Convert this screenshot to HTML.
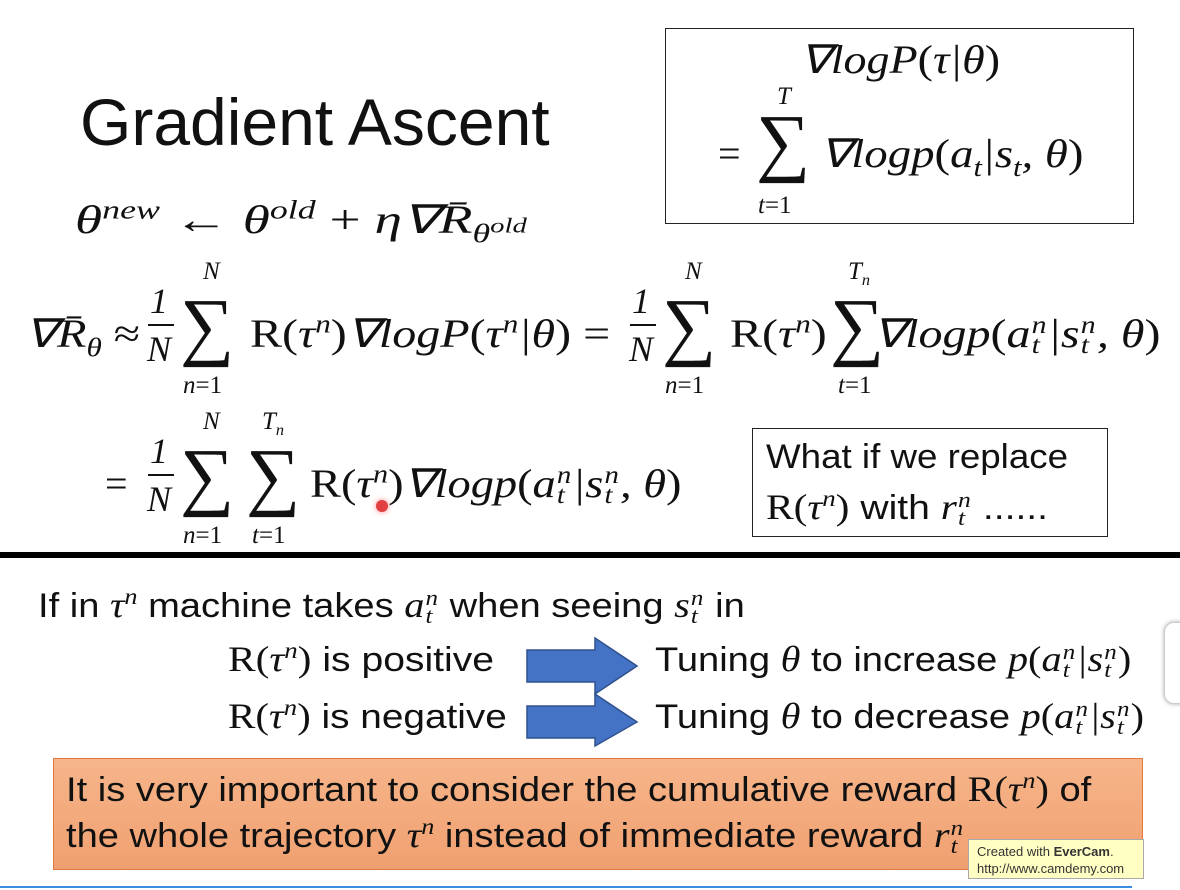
<!DOCTYPE html>
<html><head><meta charset="utf-8"><style>
body{margin:0;width:1180px;height:890px;background:#fff;position:relative;overflow:hidden;font-family:"Liberation Sans",sans-serif;color:#111}
.a{position:absolute;white-space:nowrap;transform-origin:0 50%}
.m{font-family:"Liberation Serif",serif;font-style:italic;font-size:40px}
.r{font-family:"Liberation Serif",serif;font-style:normal}
.s{font-family:"Liberation Serif",serif;font-size:76px;line-height:72px}
.l{font-family:"Liberation Serif",serif;font-style:italic;font-size:25px}
sup,sub{font-size:0.65em;line-height:0}
.ss{display:inline-flex;flex-direction:column;font-size:0.62em;line-height:0.8em;vertical-align:0.55em;margin:0 1px}
.ss b{font-weight:normal}
.f{font-family:"Liberation Serif",serif;font-style:italic;font-size:36px;text-align:center;width:28px}
.fl{position:absolute;height:2px;background:#111}
.t{font-size:34px}
.mi{font-family:"Liberation Serif",serif;font-style:italic;font-size:36px}
</style></head><body>
<div class="a" style="left:80px;top:84px;font-size:66px">Gradient Ascent</div>

<div class="a" style="left:665px;top:28px;width:467px;height:194px;border:1.5px solid #222"></div>
<div class="a m" style="left:800px;top:36px;transform:scaleX(1.15)">∇logP<span class="r">(</span>τ|θ<span class="r">)</span></div>
<div class="a l" style="left:777px;top:83px">T</div>
<div class="a r" style="left:718px;top:130px;font-size:40px">=</div>
<div class="a s" style="left:756px;top:106px">∑</div>
<div class="a l" style="left:758px;top:192px"><i>t</i><span class="r">=1</span></div>
<div class="a m" style="left:820px;top:130px;transform:scaleX(1.17)">∇logp<span class="r">(</span>a<sub>t</sub>|s<sub>t</sub>, θ<span class="r">)</span></div>

<div class="a m" style="left:75px;top:196px;transform:scaleX(1.38)">θ<sup>new</sup> <span class="r">←</span> θ<sup>old</sup> <span class="r">+</span> η∇R̄<sub>θ<sup style="font-size:0.8em">old</sup></sub></div>

<!-- line 2 -->
<div class="a m" style="left:25px;top:310px;transform:scaleX(1.2)">∇R̄<sub>θ</sub> <span class="r">≈</span></div>
<div class="a f" style="left:145px;top:280px">1</div><div class="fl" style="left:148px;top:324px;width:26px"></div><div class="a f" style="left:145px;top:328px">N</div>
<div class="a l" style="left:203px;top:258px">N</div>
<div class="a s" style="left:180px;top:290px">∑</div>
<div class="a l" style="left:183px;top:372px"><i>n</i><span class="r">=1</span></div>
<div class="a m" style="left:250px;top:310px;transform:scaleX(1.2)"><span class="r">R(</span>τ<sup>n</sup><span class="r">)</span>∇logP<span class="r">(</span>τ<sup>n</sup>|θ<span class="r">)</span> <span class="r">=</span></div>
<div class="a f" style="left:627px;top:280px">1</div><div class="fl" style="left:630px;top:324px;width:26px"></div><div class="a f" style="left:627px;top:328px">N</div>
<div class="a l" style="left:685px;top:258px">N</div>
<div class="a s" style="left:662px;top:290px">∑</div>
<div class="a l" style="left:665px;top:372px"><i>n</i><span class="r">=1</span></div>
<div class="a m" style="left:730px;top:310px;transform:scaleX(1.2)"><span class="r">R(</span>τ<sup>n</sup><span class="r">)</span></div>
<div class="a l" style="left:848px;top:258px">T<sub>n</sub></div>
<div class="a s" style="left:830px;top:290px">∑</div>
<div class="a l" style="left:838px;top:372px"><i>t</i><span class="r">=1</span></div>
<div class="a m" style="left:873px;top:310px;transform:scaleX(1.2)">∇logp<span class="r">(</span>a<span class="ss"><b>n</b><b>t</b></span>|s<span class="ss"><b>n</b><b>t</b></span>, θ<span class="r">)</span></div>

<!-- line 3 -->
<div class="a r" style="left:105px;top:460px;font-size:40px">=</div>
<div class="a f" style="left:145px;top:430px">1</div><div class="fl" style="left:148px;top:474px;width:26px"></div><div class="a f" style="left:145px;top:478px">N</div>
<div class="a l" style="left:203px;top:408px">N</div>
<div class="a s" style="left:180px;top:440px">∑</div>
<div class="a l" style="left:183px;top:522px"><i>n</i><span class="r">=1</span></div>
<div class="a l" style="left:262px;top:408px">T<sub>n</sub></div>
<div class="a s" style="left:246px;top:440px">∑</div>
<div class="a l" style="left:252px;top:522px"><i>t</i><span class="r">=1</span></div>
<div class="a m" style="left:310px;top:460px;transform:scaleX(1.16)"><span class="r">R(</span>τ<sup>n</sup><span class="r">)</span>∇logp<span class="r">(</span>a<span class="ss"><b>n</b><b>t</b></span>|s<span class="ss"><b>n</b><b>t</b></span>, θ<span class="r">)</span></div>
<div class="a" style="left:376px;top:500px;width:12px;height:12px;border-radius:50%;background:#e04040;box-shadow:0 0 6px #f88"></div>

<div class="a" style="left:752px;top:428px;width:354px;height:107px;border:1.5px solid #222"></div>
<div class="a t" style="left:766px;top:438px;transform:scaleX(1.08)">What if we replace</div>
<div class="a t" style="left:766px;top:486px;transform:scaleX(1.15)"><span class="mi"><span class="r">R(</span>τ<sup>n</sup><span class="r">)</span></span> with <span class="mi">r<span class="ss"><b>n</b><b>t</b></span></span> ......</div>

<div class="a" style="left:0;top:552px;width:1180px;height:6px;background:#000"></div>

<div class="a t" style="left:38px;top:584px;transform:scaleX(1.12)">If in <span class="mi">τ<sup>n</sup></span> machine takes <span class="mi">a<span class="ss"><b>n</b><b>t</b></span></span> when seeing <span class="mi">s<span class="ss"><b>n</b><b>t</b></span></span> in</div>

<div class="a t" style="left:228px;top:638px;transform:scaleX(1.15)"><span class="mi"><span class="r">R(</span>τ<sup>n</sup><span class="r">)</span></span> is positive</div>
<div class="a t" style="left:228px;top:695px;transform:scaleX(1.14)"><span class="mi"><span class="r">R(</span>τ<sup>n</sup><span class="r">)</span></span> is negative</div>
<svg class="a" style="left:525px;top:636px" width="115" height="112">
<polygon points="2,14 70,14 70,2 112,30 70,58 70,46 2,46" fill="#4472c4" stroke="#2f528f" stroke-width="1.5"/>
<polygon points="2,70 70,70 70,58 112,86 70,110 70,102 2,102" fill="#4472c4" stroke="#2f528f" stroke-width="1.5"/>
</svg>
<div class="a t" style="left:655px;top:638px;transform:scaleX(1.12)">Tuning <span class="mi">θ</span> to increase <span class="mi">p<span class="r">(</span>a<span class="ss"><b>n</b><b>t</b></span>|s<span class="ss"><b>n</b><b>t</b></span><span class="r">)</span></span></div>
<div class="a t" style="left:655px;top:695px;transform:scaleX(1.12)">Tuning <span class="mi">θ</span> to decrease <span class="mi">p<span class="r">(</span>a<span class="ss"><b>n</b><b>t</b></span>|s<span class="ss"><b>n</b><b>t</b></span><span class="r">)</span></span></div>

<div class="a" style="left:1164px;top:622px;width:30px;height:80px;border:1px solid #ccc;border-radius:10px;background:#fff;box-shadow:0 0 4px #aaa"></div>

<div class="a" style="left:53px;top:758px;width:1088px;height:110px;background:linear-gradient(#f6b58a,#f0a070);border:1.5px solid #e07a40"></div>
<div class="a t" style="left:66px;top:768px;transform:scaleX(1.12)">It is very important to consider the cumulative reward <span class="mi"><span class="r">R(</span>τ<sup>n</sup><span class="r">)</span></span> of</div>
<div class="a t" style="left:66px;top:814px;transform:scaleX(1.12)">the whole trajectory <span class="mi">τ<sup>n</sup></span> instead of immediate reward <span class="mi">r<span class="ss"><b>n</b><b>t</b></span></span></div>
<div class="a" style="left:968px;top:839px;width:176px;height:40px;background:#ffffc4;border:1px solid #aaa;font-size:13px;line-height:17px;padding:3px 0 0 8px;box-sizing:border-box;color:#333">Created with <b>EverCam</b>.<br>http://www.camdemy.com</div>
<div class="a" style="left:0;top:886px;width:1132px;height:2px;background:#3a8ee0"></div>
</body></html>
